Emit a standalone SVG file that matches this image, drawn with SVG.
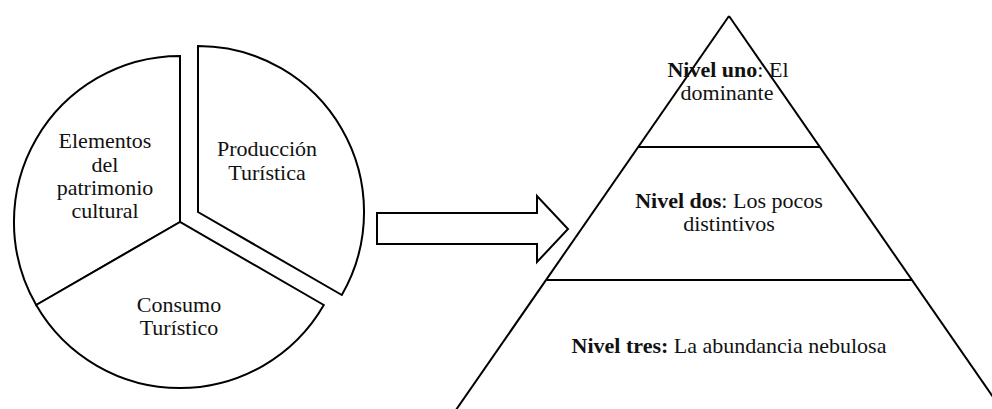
<svg xmlns="http://www.w3.org/2000/svg" width="992" height="409" viewBox="0 0 992 409">
<style>
.s{fill:#fff;stroke:#000;stroke-width:2;stroke-linejoin:miter}
.l{fill:none;stroke:#000;stroke-width:2}
.t{font-size:22px;fill:#111;text-anchor:middle}
.b{font-weight:bold}
</style>
<rect width="992" height="409" fill="#fff"/>
<g id="pie-elementos">
<path class="s" d="M180,222 L180,56 A166,166 0 0 0 36.2,305 Z"/>
<text class="t" font-family="Liberation Serif, DejaVu Serif, serif" x="105" y="148">Elementos</text>
<text class="t" font-family="Liberation Serif, DejaVu Serif, serif" x="105" y="172">del</text>
<text class="t" font-family="Liberation Serif, DejaVu Serif, serif" x="105" y="195">patrimonio</text>
<text class="t" font-family="Liberation Serif, DejaVu Serif, serif" x="105" y="218">cultural</text>
</g>
<g id="pie-consumo">
<path class="s" d="M180,222 L36.2,305 A166,166 0 0 0 323.8,305 Z"/>
<text class="t" font-family="Liberation Serif, DejaVu Serif, serif" x="179" y="312">Consumo</text>
<text class="t" font-family="Liberation Serif, DejaVu Serif, serif" x="179" y="335">Turístico</text>
</g>
<g id="pie-produccion">
<path class="s" d="M198,212 L198,46 A166,166 0 0 1 341.8,295 Z"/>
<text class="t" font-family="Liberation Serif, DejaVu Serif, serif" x="267" y="156">Producción</text>
<text class="t" font-family="Liberation Serif, DejaVu Serif, serif" x="267" y="180">Turística</text>
</g>
<g id="connectors">
<polygon class="s" points="377,213 537,213 537,196 568,229 537,262 537,244 377,244"/>
</g>
<g id="pyramid">
<line class="l" x1="729" y1="16" x2="449" y2="420"/>
<line class="l" x1="729" y1="16" x2="1009" y2="420"/>
<line class="l" x1="639" y1="147" x2="820" y2="147"/>
<line class="l" x1="547" y1="280" x2="912" y2="280"/>
</g>
<g id="nivel-uno">
<text class="t" font-family="Liberation Serif, DejaVu Serif, serif" x="728" y="77"><tspan class="b">Nivel uno</tspan>: El</text>
<text class="t" font-family="Liberation Serif, DejaVu Serif, serif" x="727" y="100">dominante</text>
</g>
<g id="nivel-dos">
<text class="t" font-family="Liberation Serif, DejaVu Serif, serif" x="729" y="208"><tspan class="b">Nivel dos</tspan>: Los pocos</text>
<text class="t" font-family="Liberation Serif, DejaVu Serif, serif" x="729" y="231">distintivos</text>
</g>
<g id="nivel-tres">
<text class="t" font-family="Liberation Serif, DejaVu Serif, serif" x="729" y="353"><tspan class="b">Nivel tres:</tspan> La abundancia nebulosa</text>
</g>
</svg>
